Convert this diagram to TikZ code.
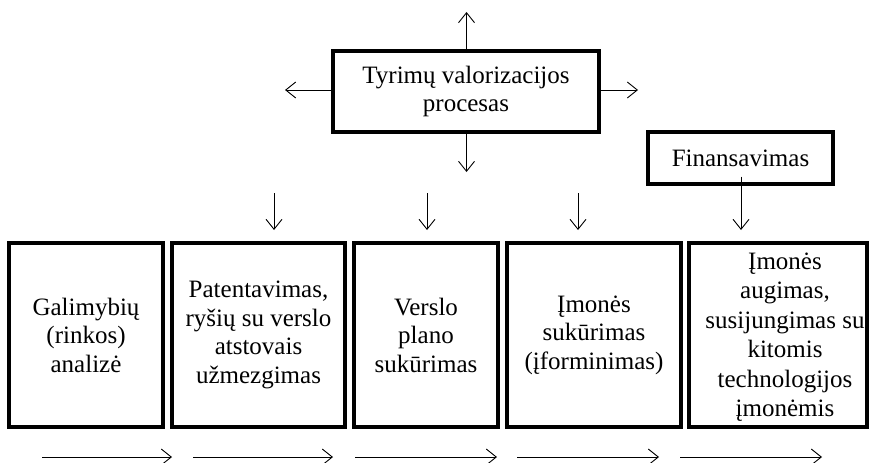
\documentclass[tikz,border=0pt]{standalone}
\usepackage{fontspec}
\setmainfont{Liberation Serif}
\usetikzlibrary{arrows.meta}
\begin{document}
\begin{tikzpicture}[x=1pt,y=-1pt,
  box/.style={draw,line width=3.4pt,inner sep=0pt,align=center,
    font=\fontsize{25}{28.5}\selectfont},
  arr/.style={line width=0.9pt,-{Straight Barb[length=10pt,width=16pt,line width=0.9pt]}}]
\useasboundingbox (0,0) rectangle (870,463);

% central process box and the Finansavimas box
\node[box,minimum width=266pt,minimum height=81pt] (proc) at (466,91.5)
  {Tyrimų valorizacijos\\procesas};
\node[box,minimum width=185pt,minimum height=52pt] (fin) at (740.5,158)
  {Finansavimas};

% the five stages
\node[box,minimum width=154pt,minimum height=184pt] (s1) at (86,335)
  {Galimybių\\(rinkos)\\analizė};
\node[box,minimum width=173pt,minimum height=184pt] (s2) at (258.5,335)
  {Patentavimas,\\ryšių su verslo\\atstovais\\užmezgimas};
\node[box,minimum width=144pt,minimum height=184pt] (s3) at (426,335)
  {Verslo\\plano\\sukūrimas};
\node[box,minimum width=174pt,minimum height=184pt] (s4) at (594,335)
  {Įmonės\\sukūrimas\\(įforminimas)};
\node[box,minimum width=178pt,minimum height=184pt] (s5) at (778,335) {};
\node[font=\fontsize{25}{29.5}\selectfont,align=center,inner sep=0pt] (s5t) at (785,337)
  {Įmonės\\augimas,\\susijungimas su\\kitomis\\technologijos\\įmonėmis};

% arrows leaving the process box
\coordinate (up) at (466.5,12);
\coordinate (dn) at (466.5,172);
\coordinate (lt) at (285,90);
\coordinate (rt) at (638,90);
\draw[arr] (proc.north -| up) -- (up);
\draw[arr] (proc.south -| dn) -- (dn);
\draw[arr] (proc.west |- lt) -- (lt);
\draw[arr] (proc.east |- rt) -- (rt);

% arrows into the stages
\foreach \x/\n in {274/a,427/b,578/c} {
  \coordinate (t\n) at (\x,193);
  \coordinate (h\n) at (\x,230);
  \draw[arr] (t\n) -- (h\n);
}
\coordinate (hf) at (741,230);
\draw[arr] ([yshift=9pt]fin.south -| hf) -- (hf);

% sequence arrows under the stages
\foreach \a/\b/\n in {42/172/1,193/333/2,355/497/3,517/659/4,680/822/5} {
  \coordinate (p\n) at (\a,457);
  \coordinate (q\n) at (\b,457);
  \draw[arr] (p\n) -- (q\n);
}
\end{tikzpicture}
\end{document}
